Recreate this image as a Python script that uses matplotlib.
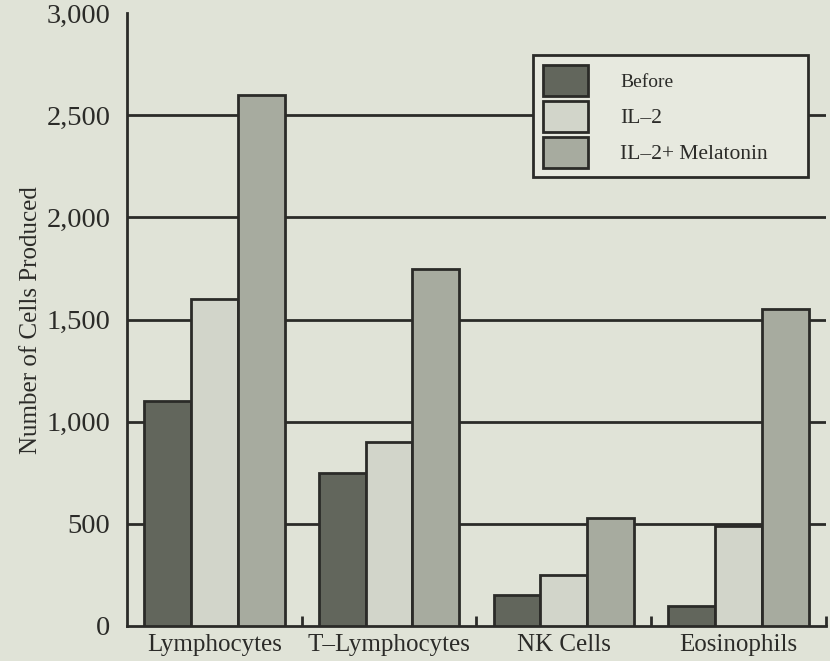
#!/usr/bin/env python

import numpy as np
import matplotlib
matplotlib.use("Agg")
import matplotlib.pyplot as plt

# values
cell_types = ["Lymphocytes", "T\u2013Lymphocytes", "NK Cells", "Eosinophils"]
before = [1100, 750, 150, 100]
il2 = [1600, 900, 250, 490]
il2_melatonin = [2600, 1750, 530, 1550]
series_names = ["Before", "IL\u20132", "IL\u20132+ Melatonin"]
y_ticks = [0, 500, 1000, 1500, 2000, 2500, 3000]
y_ticklabels = ["0", "500", "1,000", "1,500", "2,000", "2,500", "3,000"]
grid_levels = [500, 1000, 1500, 2000, 2500]

bg = "#e0e3d7"
colors = ["#62665c", "#d2d5ca", "#a7ab9f"]
ink = "#2b2b28"

plt.rcParams["font.family"] = ["Liberation Serif", "DejaVu Serif"]

fig = plt.figure(figsize=(8.30, 6.61), dpi=100, facecolor=bg)
ax = fig.add_axes([0.153, 0.053, 0.842, 0.927])
ax.set_facecolor(bg)

x = np.arange(len(cell_types))
w = 0.268
for i, vals in enumerate([before, il2, il2_melatonin]):
    ax.bar(x + (i - 1) * w, vals, width=w, color=colors[i], edgecolor=ink,
           linewidth=2, label=series_names[i], zorder=3)

# horizontal rules (no rule at the top)
ax.hlines(grid_levels, -0.5, 3.5, color=ink, linewidth=2, zorder=1)

ax.set_xlim(-0.5, 3.5)
ax.set_ylim(0, 3000)
ax.set_yticks(y_ticks)
ax.set_yticklabels(y_ticklabels, fontsize=20.5, color=ink)
ax.set_xticks(x)
ax.set_xticklabels(cell_types, fontsize=18, color=ink)
ax.tick_params(axis="x", which="major", length=0, pad=6)
ax.tick_params(axis="y", length=0, pad=12)
ax.set_xticks(x + 0.5, minor=True)
ax.tick_params(axis="x", which="minor", direction="in", length=7, width=2, color=ink)

for s in ["top", "right"]:
    ax.spines[s].set_visible(False)
for s in ["left", "bottom"]:
    ax.spines[s].set_color(ink)
    ax.spines[s].set_linewidth(2)

ax.set_ylabel("Number of Cells Produced", fontsize=18, color=ink, labelpad=3)

leg = ax.legend(loc="upper left", bbox_to_anchor=(0.581, 0.5, 0.393, 0.432),
                mode="expand", fontsize=15.5,
                frameon=True, fancybox=False, edgecolor=ink, facecolor="#e7e9df",
                framealpha=1, handlelength=2.1, handleheight=1.84,
                labelspacing=0.23, handletextpad=1.5, borderpad=0.45,
                borderaxespad=0)
leg.get_frame().set_linewidth(2)
leg.set_zorder(5)
for t in leg.get_texts():
    t.set_color(ink)
leg.get_texts()[0].set_fontsize(14)

plt.savefig("out.png", dpi=100, facecolor=bg)
